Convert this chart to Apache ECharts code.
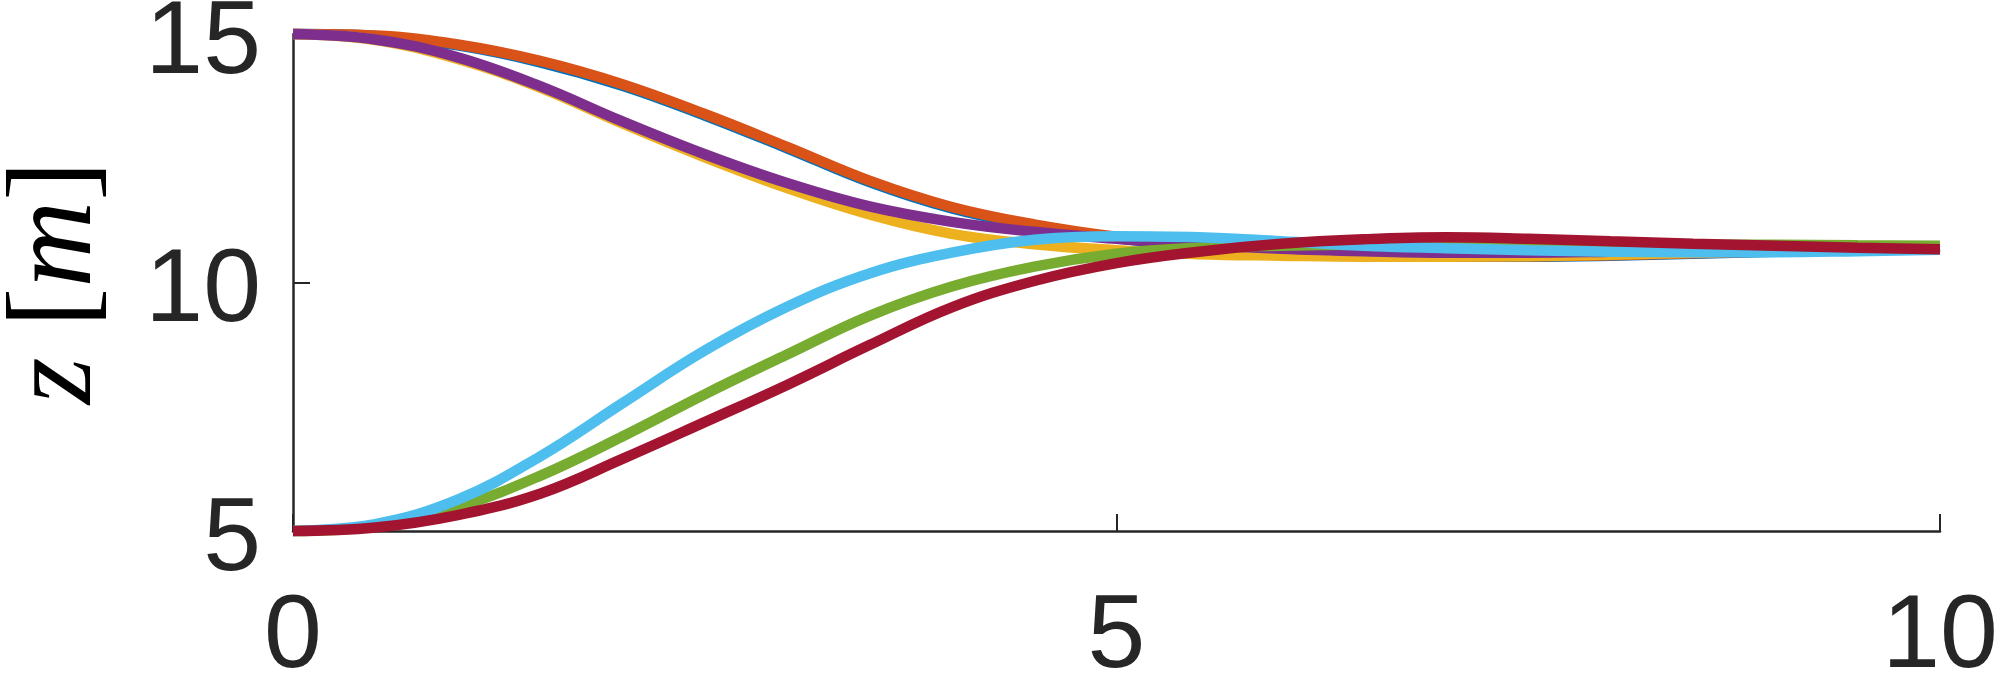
<!DOCTYPE html>
<html>
<head>
<meta charset="utf-8">
<script src="https://cdn.jsdelivr.net/npm/echarts@6/dist/echarts.min.js"></script>
<style>
  html, body { margin: 0; padding: 0; background: #fff; }
  #chart { width: 2000px; height: 674px; }
</style>
</head>
<body>
<div id="chart"></div>
<script>
// time samples (s)
const xs = [0, 0.5, 1, 1.5, 2, 2.5, 3, 3.5, 4, 4.5, 5, 5.5, 6, 6.5, 7, 7.5, 8, 8.5, 9, 9.5, 10];

// z [m] of each agent
const zBlue      = [15.0, 14.96, 14.77, 14.43, 13.96, 13.36, 12.70, 12.02, 11.49, 11.14, 10.89, 10.73, 10.62, 10.55, 10.52, 10.52, 10.54, 10.58, 10.62, 10.67, 10.72];
const zOrange    = [15.0, 14.97, 14.79, 14.46, 13.99, 13.39, 12.73, 12.05, 11.52, 11.17, 10.92, 10.75, 10.64, 10.57, 10.53, 10.53, 10.55, 10.59, 10.63, 10.68, 10.72];
const zYellow    = [15.0, 14.88, 14.50, 13.92, 13.20, 12.52, 11.90, 11.37, 10.98, 10.77, 10.65, 10.57, 10.54, 10.52, 10.52, 10.53, 10.56, 10.60, 10.64, 10.68, 10.72];
const zPurple    = [15.0, 14.89, 14.53, 13.95, 13.24, 12.58, 12.00, 11.53, 11.22, 11.02, 10.88, 10.76, 10.68, 10.63, 10.60, 10.60, 10.62, 10.65, 10.68, 10.70, 10.72];
const zGreen     = [5.0, 5.10, 5.48, 6.11, 6.90, 7.75, 8.55, 9.33, 9.92, 10.32, 10.58, 10.70, 10.74, 10.76, 10.77, 10.77, 10.77, 10.76, 10.76, 10.75, 10.74];
const zLightBlue = [5.0, 5.14, 5.63, 6.50, 7.57, 8.63, 9.51, 10.18, 10.60, 10.86, 10.93, 10.91, 10.83, 10.74, 10.69, 10.65, 10.62, 10.61, 10.61, 10.63, 10.66];
const zRed       = [5.0, 5.07, 5.32, 5.75, 6.45, 7.19, 7.94, 8.74, 9.50, 10.03, 10.39, 10.62, 10.78, 10.87, 10.91, 10.88, 10.83, 10.78, 10.74, 10.70, 10.67];

const xTicks = [0, 5, 10];
const yTicks = [5, 10, 15];

const seriesList = [
  { name: 'agent 1', values: zBlue,      color: '#0072BD' },
  { name: 'agent 2', values: zOrange,    color: '#D95319' },
  { name: 'agent 3', values: zYellow,    color: '#EDB120' },
  { name: 'agent 4', values: zPurple,    color: '#7E2F8E' },
  { name: 'agent 5', values: zGreen,     color: '#77AC30' },
  { name: 'agent 6', values: zLightBlue, color: '#4DBEEE' },
  { name: 'agent 7', values: zRed,       color: '#A2142F' }
];

const axisColor = '#262626';

const chart = echarts.init(document.getElementById('chart'));

chart.setOption({
  animation: false,
  backgroundColor: '#fff',
  grid: {
    left: 293,
    right: 60,
    top: 34,
    bottom: 143,
    containLabel: false,
    outerBoundsMode: 'none'
  },
  xAxis: {
    type: 'value',
    min: xTicks[0],
    max: xTicks[xTicks.length - 1],
    interval: 5,
    axisLine: { show: true, lineStyle: { color: axisColor, width: 2.5 } },
    axisTick: { show: true, inside: true, length: 17, lineStyle: { color: axisColor, width: 2 } },
    axisLabel: {
      margin: 55,
      fontSize: 104,
      fontFamily: 'Liberation Sans',
      color: axisColor
    },
    splitLine: { show: false }
  },
  yAxis: {
    type: 'value',
    min: yTicks[0],
    max: yTicks[yTicks.length - 1],
    interval: 5,
    name: '{i|z} [{i|m}]',
    nameLocation: 'middle',
    nameRotate: 90,
    nameGap: 235,
    nameTextStyle: {
      fontSize: 120,
      fontFamily: 'Liberation Serif',
      color: '#000',
      align: 'center',
      verticalAlign: 'middle',
      rich: {
        i: { fontSize: 120, fontFamily: 'Liberation Serif', fontStyle: 'italic', color: '#000' }
      }
    },
    axisLine: { show: true, lineStyle: { color: axisColor, width: 2.5 } },
    axisTick: { show: true, inside: true, length: 17, lineStyle: { color: axisColor, width: 2 } },
    axisLabel: {
      margin: 32,
      fontSize: 104,
      fontFamily: 'Liberation Sans',
      color: axisColor,
      verticalAlign: 'top',
      lineHeight: 20
    },
    splitLine: { show: false }
  },
  series: seriesList.map(s => ({
    name: s.name,
    type: 'line',
    data: xs.map((x, i) => [x, s.values[i]]),
    showSymbol: false,
    smooth: 0.4,
    clip: false,
    lineStyle: { color: s.color, width: 10.5 },
    itemStyle: { color: s.color }
  }))
});
</script>
</body>
</html>
